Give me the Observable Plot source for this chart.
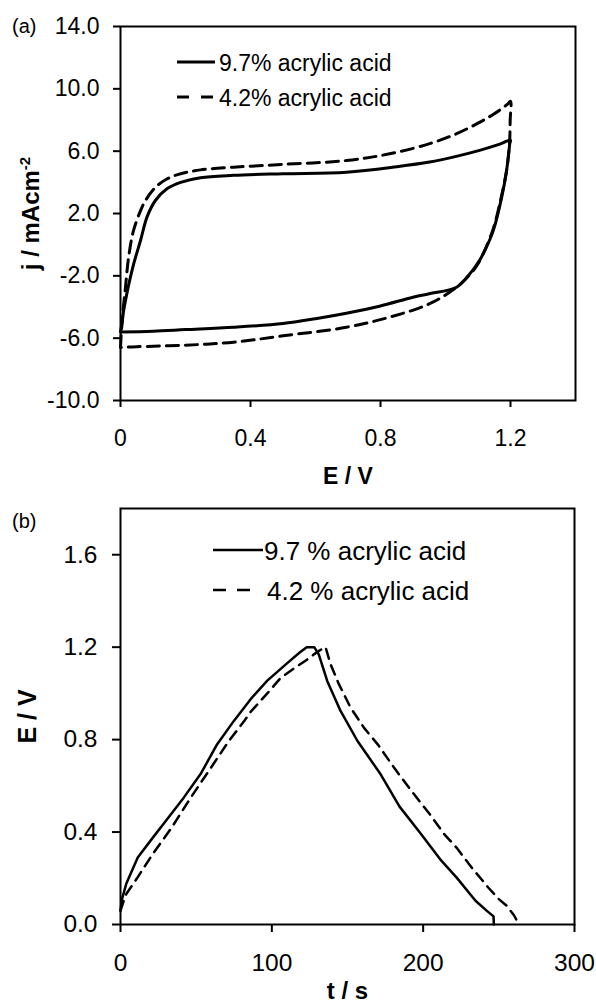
<!DOCTYPE html>
<html><head><meta charset="utf-8">
<script src="https://cdn.jsdelivr.net/npm/d3@7"></script>
<script src="https://cdn.jsdelivr.net/npm/@observablehq/plot@0.6"></script>
<style>
html,body{margin:0;padding:0;background:#fff;}
#wrap{position:relative;width:596px;height:1005px;overflow:hidden;font-family:Arial,"Liberation Sans",sans-serif;color:#000;background:#fff;}
#wrap svg{display:block;}
#wrap svg g[aria-label$="tick"], #wrap svg g[aria-label$="tick"] path{stroke-width:2px;}
.lg{position:absolute;white-space:nowrap;line-height:1;transform:translateY(-50%);}
.sw{position:absolute;overflow:visible;}
.pl{position:absolute;white-space:nowrap;line-height:1;}
</style>
</head><body>
<div id="wrap"></div>
<script>
// ---------- Panel (a): cyclic voltammograms ----------
const seriesNames = ["9.7% acrylic acid", "4.2% acrylic acid"];
const seriesNamesB = ["9.7 % acrylic acid", "4.2 % acrylic acid"];

const cvE_97 = [0, 0.005, 0.010, 0.018, 0.026, 0.041, 0.062, 0.082, 0.108, 0.144, 0.185, 0.246, 0.348, 0.5, 0.695, 0.85, 0.951, 1.03, 1.105, 1.16, 1.2,
                1.198, 1.193, 1.188, 1.173, 1.147, 1.125, 1.105, 1.07, 1.034, 0.95, 0.9, 0.797, 0.695, 0.6, 0.5, 0.348, 0.2, 0.1, 0];
const cvJ_97 = [-5.6, -5.0, -4.2, -3.3, -2.5, -1.2, 0.3, 1.8, 2.85, 3.6, 4.0, 4.3, 4.45, 4.55, 4.65, 5.0, 5.3, 5.65, 6.05, 6.4, 6.7,
                6.5, 5.6, 4.76, 3.05, 0.9, -0.2, -1.0, -2.0, -2.73, -3.15, -3.37, -3.95, -4.4, -4.75, -5.06, -5.3, -5.45, -5.55, -5.6];

const cvE_42 = [0, 0.003, 0.008, 0.015, 0.025, 0.04, 0.062, 0.077, 0.108, 0.144, 0.185, 0.246, 0.348, 0.5, 0.695, 0.828, 0.951, 1.034, 1.1, 1.15, 1.19, 1.2,
                1.199, 1.197, 1.188, 1.172, 1.145, 1.1, 1.077, 1.034, 0.951, 0.828, 0.695, 0.5, 0.348, 0.2, 0.05, 0];
const cvJ_42 = [-6.6, -5.5, -4.2, -2.8, -0.8, 0.9, 2.2, 2.84, 3.69, 4.23, 4.55, 4.8, 4.97, 5.15, 5.4, 5.83, 6.48, 7.12, 7.8, 8.4, 9.0, 9.2,
                8.0, 6.5, 4.76, 3.1, 0.9, -1.23, -1.87, -2.73, -3.79, -4.65, -5.3, -5.85, -6.26, -6.45, -6.55, -6.6];

const cvXTicks = [0, 0.4, 0.8, 1.2];
const cvYTicks = [-10, -6, -2, 2, 6, 10, 14];

// ---------- Panel (b): galvanostatic charge/discharge ----------
const gcT_97 = [0, 1, 3.8, 11.4, 21.5, 30.8, 41.9, 52.9, 63.9, 74.9, 86, 97, 110, 118, 123, 128, 131, 136.6, 145.4, 156.6, 171.9, 184.4, 198.2, 212, 222, 234.6, 241.9, 246.5, 246.7];
const gcE_97 = [0.06, 0.11, 0.176, 0.29, 0.377, 0.455, 0.55, 0.651, 0.78, 0.881, 0.975, 1.055, 1.13, 1.175, 1.2, 1.2, 1.169, 1.054, 0.924, 0.794, 0.65, 0.51, 0.395, 0.276, 0.204, 0.103, 0.06, 0.035, 0];

const gcT_42 = [0, 2, 3.8, 11.3, 21.3, 33.9, 46.4, 59, 71.5, 81.6, 86, 97, 105.7, 115, 122, 128, 134.4, 135.5, 138.8, 144.3, 152, 160.8, 170.5, 180.6, 192, 204.6, 214, 222, 232, 243, 250, 255, 260, 263.4];
const gcE_42 = [0.06, 0.1, 0.132, 0.204, 0.305, 0.42, 0.549, 0.671, 0.793, 0.879, 0.92, 1.0, 1.066, 1.11, 1.14, 1.17, 1.198, 1.2, 1.126, 1.04, 0.939, 0.852, 0.775, 0.68, 0.58, 0.475, 0.39, 0.333, 0.247, 0.16, 0.11, 0.082, 0.04, 0];

const gcXTicks = [0, 100, 200, 300];
const gcYTicks = [0, 0.4, 0.8, 1.2, 1.6];

// ---------- build tables ----------
const cvData = [
  ...cvE_97.map((E, i) => ({E, j: cvJ_97[i], s: seriesNames[0]})),
  ...cvE_42.map((E, i) => ({E, j: cvJ_42[i], s: seriesNames[1]}))
];
const gcData = [
  ...gcT_97.map((t, i) => ({t, E: gcE_97[i], s: seriesNamesB[0]})),
  ...gcT_42.map((t, i) => ({t, E: gcE_42[i], s: seriesNamesB[1]}))
];

const font = "Arial, 'Liberation Sans', sans-serif";

const chartA = Plot.plot({
  width: 596, height: 490,
  marginLeft: 120, marginRight: 21, marginTop: 26, marginBottom: 90,
  style: {fontFamily: font, fontSize: "23px", color: "black", background: "white", overflow: "visible"},
  x: {domain: [0, 1.4], ticks: cvXTicks, tickFormat: d => d === 0 ? "0" : d.toFixed(1), tickSize: 7, tickPadding: 22,
      label: "E / V", labelAnchor: "center", labelOffset: 83, labelArrow: "none"},
  y: {domain: [-10, 14], ticks: cvYTicks, tickFormat: d => d.toFixed(1), tickSize: 7, tickPadding: 14,
      label: "j / mAcm-2", labelAnchor: "center", labelOffset: 99, labelArrow: "none"},
  marks: [
    Plot.frame({stroke: "black", strokeWidth: 2}),
    Plot.line(cvData.filter(d => d.s === seriesNames[0]), {x: "E", y: "j", stroke: "black", strokeWidth: 3, curve: "catmull-rom"}),
    Plot.line(cvData.filter(d => d.s === seriesNames[1]), {x: "E", y: "j", stroke: "black", strokeWidth: 3, strokeDasharray: "12,7", curve: "catmull-rom"})
  ]
});

const chartB = Plot.plot({
  width: 596, height: 515,
  marginLeft: 120, marginRight: 22, marginTop: 18, marginBottom: 81,
  style: {fontFamily: font, fontSize: "24.5px", color: "black", background: "white", overflow: "visible"},
  x: {domain: [0, 300], ticks: gcXTicks, tickFormat: d => String(d), tickSize: 8, tickPadding: 21,
      label: "t / s", labelAnchor: "center", labelOffset: 74, labelArrow: "none"},
  y: {domain: [0, 1.8], ticks: gcYTicks, tickFormat: d => d.toFixed(1), tickSize: 8, tickPadding: 15,
      label: "E / V", labelAnchor: "center", labelOffset: 102, labelArrow: "none"},
  marks: [
    Plot.frame({stroke: "black", strokeWidth: 2}),
    Plot.line(gcData.filter(d => d.s === seriesNamesB[0]), {x: "t", y: "E", stroke: "black", strokeWidth: 2.5}),
    Plot.line(gcData.filter(d => d.s === seriesNamesB[1]), {x: "t", y: "E", stroke: "black", strokeWidth: 2.5, strokeDasharray: "10,7"})
  ]
});

// bold axis titles + superscript
function styleLabels(svg, labels, size) {
  d3.select(svg).selectAll("text").each(function() {
    const t = this.textContent;
    if (labels.includes(t)) {
      const sel = d3.select(this).attr("font-weight", "bold").attr("font-size", size);
      if (t === "j / mAcm-2") {
        sel.text("j / mAcm");
        sel.append("tspan").attr("font-size", "15px").attr("dy", "-0.6em").text("-2");
      }
    }
  });
}
styleLabels(chartA, ["E / V"], "23px");
styleLabels(chartA, ["j / mAcm-2"], "24px");
styleLabels(chartB, ["t / s"], "24px");
styleLabels(chartB, ["E / V"], "25px");

const wrap = document.getElementById("wrap");
wrap.appendChild(chartA);
wrap.appendChild(chartB);

function addText(cls, txt, left, top, size) {
  const d = document.createElement("div");
  d.className = cls; d.textContent = txt;
  d.style.left = left + "px"; d.style.top = top + "px"; d.style.fontSize = size + "px";
  wrap.appendChild(d);
}
function addSwatch(left, y, w, dash, sw) {
  const ns = "http://www.w3.org/2000/svg";
  const s = document.createElementNS(ns, "svg");
  s.setAttribute("class", "sw");
  s.setAttribute("width", w); s.setAttribute("height", 8);
  s.style.left = left + "px"; s.style.top = (y - 4) + "px";
  const l = document.createElementNS(ns, "line");
  l.setAttribute("x1", 0); l.setAttribute("x2", w); l.setAttribute("y1", 4); l.setAttribute("y2", 4);
  l.setAttribute("stroke", "black"); l.setAttribute("stroke-width", sw);
  if (dash) l.setAttribute("stroke-dasharray", dash);
  s.appendChild(l);
  wrap.appendChild(s);
}

// panel letters
addText("pl", "(a)", 12, 16, 20);
addText("pl", "(b)", 12, 511, 20);

// legend (a)
addSwatch(177, 62, 38, null, 3);
addText("lg", seriesNames[0], 219, 63, 23);
addSwatch(177, 97, 38, "12,12", 3);
addText("lg", seriesNames[1], 219, 98, 23);

// legend (b)
addSwatch(213, 550, 50, null, 2.5);
addText("lg", seriesNamesB[0], 264, 551, 26);
addSwatch(213, 590, 38, "13,11", 2.5);
addText("lg", seriesNamesB[1], 267, 591, 26);
</script>
</body></html>
